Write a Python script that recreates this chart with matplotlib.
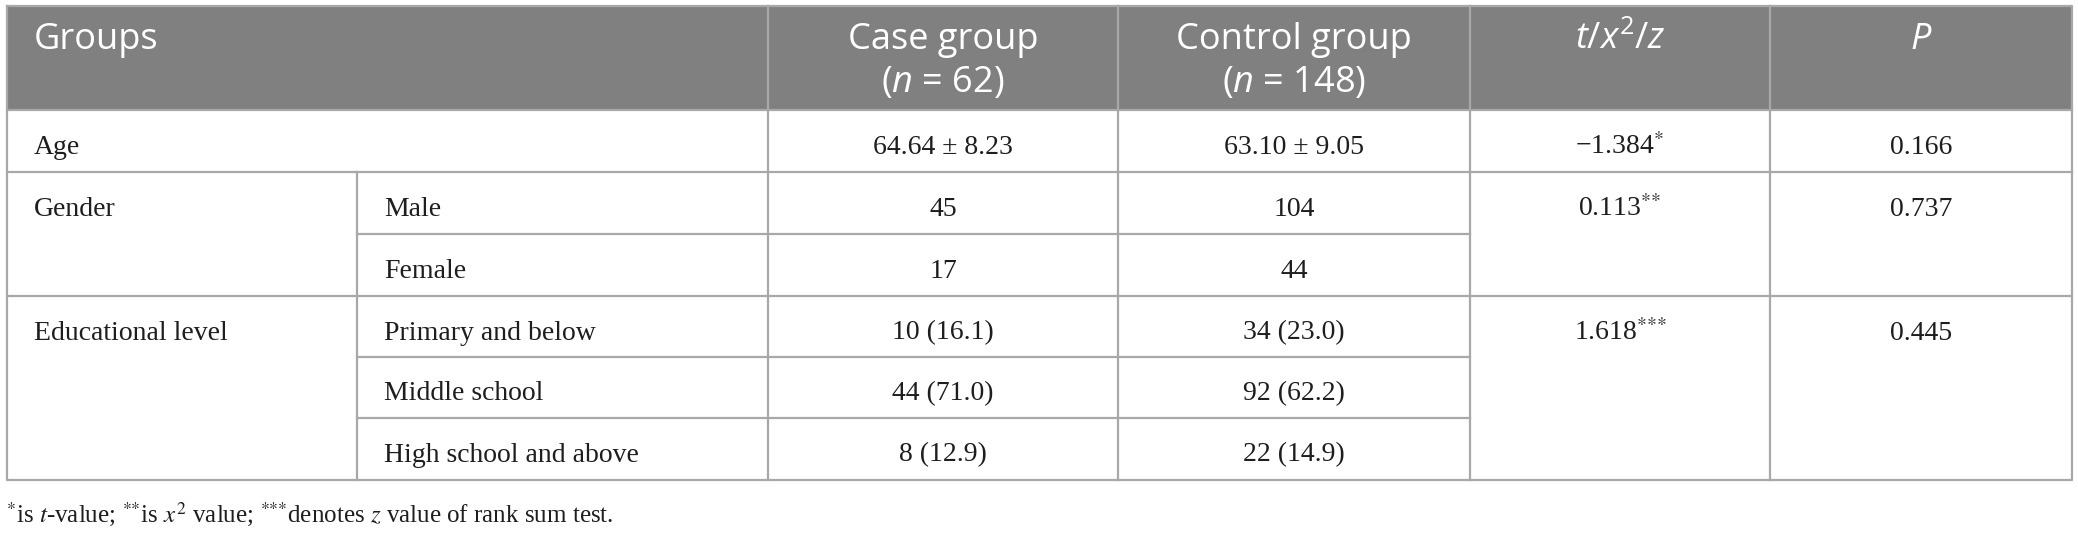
"""
Baseline comparison table: case group vs control group
"""

import matplotlib
matplotlib.use('Agg')
import matplotlib.pyplot as plt  # pylint: disable=wrong-import-position
from matplotlib.patches import Rectangle  # pylint: disable=wrong-import-position

# Table content
header_labels = ["Groups", "Case group\n($n$ = 62)", "Control group\n($n$ = 148)",
                 "$t$/$x^{2}$/$z$", "$P$"]
group_labels = ["Age", "Gender", "Educational level"]
sub_labels = ["", "Male", "Female", "Primary and below", "Middle school",
              "High school and above"]
case_values = ["64.64 ± 8.23", "45", "17", "10 (16.1)", "44 (71.0)", "8 (12.9)"]
control_values = ["63.10 ± 9.05", "104", "44", "34 (23.0)", "92 (62.2)", "22 (14.9)"]
stat_values = ["−1.384$^{{*}}$", "0.113$^{{*}{*}}$", "1.618$^{{*}{*}{*}}$"]
p_values = ["0.166", "0.737", "0.445"]
group_first_row = [0, 1, 3]
footnote = ("$^{{*}}$is $t$-value; $^{{*}{*}}$is $x^{2}$ value; "
            "$^{{*}{*}{*}}$denotes $z$ value of rank sum test.")

W, H = 2078, 535
col_x = [6.5, 357, 768, 1118, 1470, 1770, 2072]
row_y = [6, 110, 172, 234, 296, 357, 418, 480]

HEADER_BG = '#808080'
LINE = '#a8a8a8'
TEXT = '#1e1e1e'
SANS = 'Open Sans'
SERIF = 'Liberation Serif'

plt.rcParams['mathtext.fontset'] = 'custom'
plt.rcParams['mathtext.rm'] = SANS
plt.rcParams['mathtext.it'] = SANS + ':italic'

fig = plt.figure(figsize=(W / 100, H / 100), dpi=100)
ax = fig.add_axes([0, 0, 1, 1])
ax.set_xlim(0, W)
ax.set_ylim(H, 0)
ax.axis('off')

# Header band
ax.add_patch(Rectangle((col_x[0], row_y[0]), col_x[-1] - col_x[0],
                       row_y[1] - row_y[0], facecolor=HEADER_BG, edgecolor='none'))

# Grid lines
lw = 1.6
ax.plot([col_x[0], col_x[-1], col_x[-1], col_x[0], col_x[0]],
        [row_y[0], row_y[0], row_y[-1], row_y[-1], row_y[0]], color=LINE, lw=lw)
for y in (row_y[1], row_y[2], row_y[4]):
    ax.plot([col_x[0], col_x[-1]], [y, y], color=LINE, lw=lw)
for y in (row_y[3], row_y[5], row_y[6]):
    ax.plot([col_x[1], col_x[4]], [y, y], color=LINE, lw=lw)
ax.plot([col_x[1], col_x[1]], [row_y[2], row_y[-1]], color=LINE, lw=lw)
for x in col_x[2:6]:
    ax.plot([x, x], [row_y[0], row_y[-1]], color=LINE, lw=lw)

# Header text, one line at a time
HEAD_BASE = [row_y[0] + 43, row_y[0] + 86]
ax.text(col_x[0] + 27, HEAD_BASE[0], header_labels[0], color='white',
        family=SANS, fontsize=26, va='baseline', ha='left')
for i, label in enumerate(header_labels[1:]):
    cx = (col_x[i + 2] + col_x[i + 3]) / 2
    for line, yb in zip(label.split('\n'), HEAD_BASE):
        ax.text(cx, yb, line, color='white', family=SANS, fontsize=26,
                va='baseline', ha='center')

# Body text
BASE = 43.5
for label, r in zip(group_labels, group_first_row):
    ax.text(col_x[0] + 27, row_y[r + 1] + BASE, label, color=TEXT, family=SERIF,
            fontsize=20, va='baseline', ha='left')

for r in range(len(sub_labels)):
    y = row_y[r + 1] + BASE
    if sub_labels[r]:
        ax.text(col_x[1] + 27, y, sub_labels[r], color=TEXT, family=SERIF,
                fontsize=20, va='baseline', ha='left')
    ax.text((col_x[2] + col_x[3]) / 2, y, case_values[r], color=TEXT,
            family=SERIF, fontsize=20, va='baseline', ha='center')
    ax.text((col_x[3] + col_x[4]) / 2, y, control_values[r], color=TEXT,
            family=SERIF, fontsize=20, va='baseline', ha='center')

for stat, p, r in zip(stat_values, p_values, group_first_row):
    y = row_y[r + 1] + BASE
    ax.text((col_x[4] + col_x[5]) / 2, y, stat, color=TEXT, family=SERIF,
            fontsize=20, va='baseline', ha='center', math_fontfamily='stix')
    ax.text((col_x[5] + col_x[6]) / 2, y, p, color=TEXT, family=SERIF,
            fontsize=20, va='baseline', ha='center')

# Footnote
ax.text(col_x[0], 522, footnote, color=TEXT, family=SERIF, fontsize=18,
        va='baseline', ha='left', math_fontfamily='stix')

fig.savefig('out.png', dpi=100, facecolor='white')
plt.close(fig)
